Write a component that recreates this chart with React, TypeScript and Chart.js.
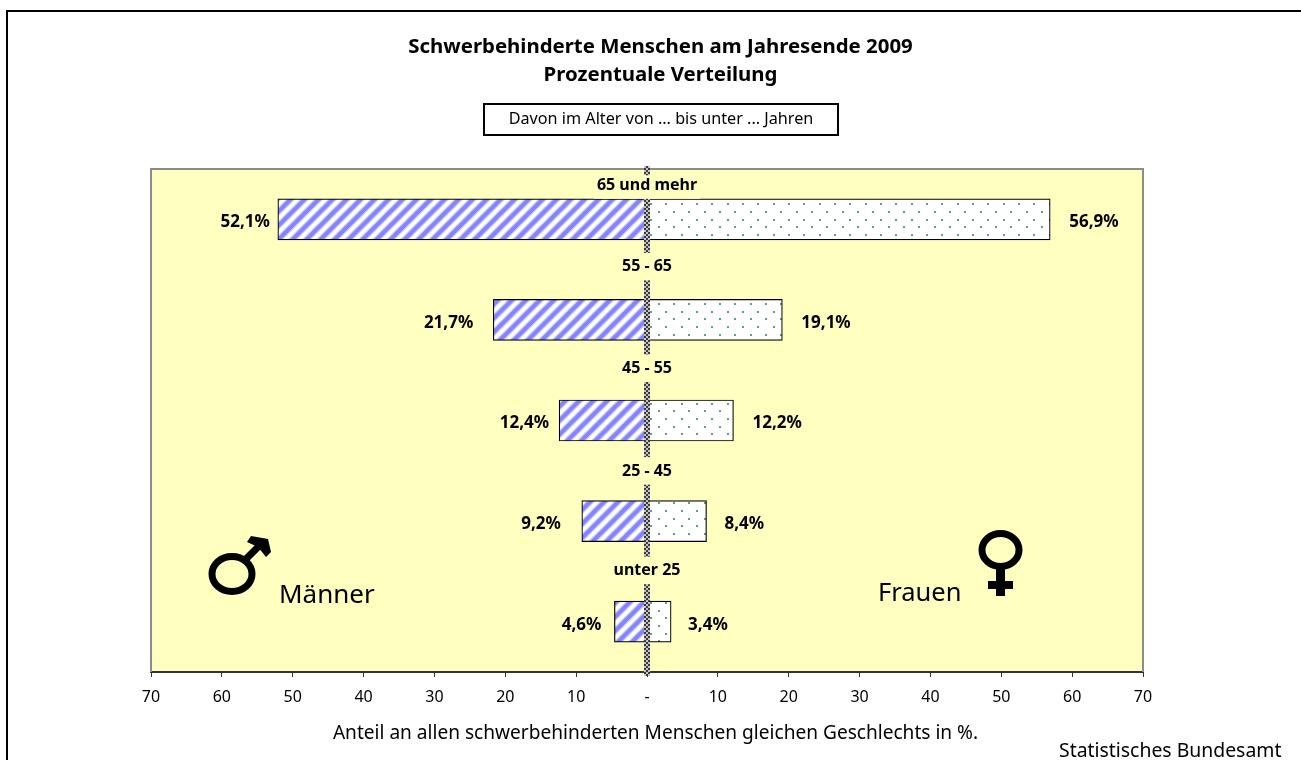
import React, { useEffect, useRef } from "react";
import { Chart, registerables } from "chart.js";

Chart.register(...registerables);

const categories = ["65 und mehr", "55 - 65", "45 - 55", "25 - 45", "unter 25"];
const maleShare = [52.1, 21.7, 12.4, 9.2, 4.6];
const femaleShare = [56.9, 19.1, 12.2, 8.4, 3.4];
const xTickValues = [-70, -60, -50, -40, -30, -20, -10, 0, 10, 20, 30, 40, 50, 60, 70];
const titleLines = ["Schwerbehinderte Menschen am Jahresende 2009", "Prozentuale Verteilung"];
const boxText = "Davon im Alter von ... bis unter ... Jahren";
const axisText = "Anteil an allen schwerbehinderten Menschen gleichen Geschlechts in %.";
const sourceText = "Statistisches Bundesamt";
const FONT = '"Noto Sans", sans-serif';
const categoryLabelRise = [34, 53, 52, 50, 51];
const categoryBackingAbove = [10, 14, 14, 14, 14];
const maleLabelGap = [8, 20, 10, 21, 13];
const femaleLabelGap = [19, 19, 19, 18, 17];

function stripePattern(ctx: CanvasRenderingContext2D) {
  const p = 14;
  const c = document.createElement("canvas");
  c.width = p;
  c.height = p;
  const g = c.getContext("2d")!;
  g.fillStyle = "#ffffff";
  g.fillRect(0, 0, p, p);
  const band = (color: string, w: number) => {
    g.strokeStyle = color;
    g.lineWidth = w;
    for (let k = -1; k <= 1; k++) {
      g.beginPath();
      g.moveTo(k * p - 2, p + 2);
      g.lineTo(k * p + p + 2, -2);
      g.stroke();
    }
  };
  band("#c8c8ff", 6.4);
  band("#8484ff", 4);
  return ctx.createPattern(c, "repeat")!;
}

function dotPattern(ctx: CanvasRenderingContext2D) {
  const c = document.createElement("canvas");
  c.width = 46;
  c.height = 46;
  const g = c.getContext("2d")!;
  g.fillStyle = "#ffffff";
  g.fillRect(0, 0, 46, 46);
  g.fillStyle = "#5f9a9a";
  for (let r = 0; r < 6; r++) {
    for (let k = 0; k < 3; k++) {
      const x = Math.round(7 + k * 15.33 + (r % 2) * 7.67) % 46;
      const y = Math.round(5 + r * 7.67);
      g.fillRect(x - 1, y - 1, 2, 2);
    }
  }
  return ctx.createPattern(c, "repeat")!;
}

function checkerPattern(ctx: CanvasRenderingContext2D) {
  const c = document.createElement("canvas");
  c.width = 4;
  c.height = 4;
  const g = c.getContext("2d")!;
  g.fillStyle = "#c4c4c4";
  g.fillRect(0, 0, 4, 4);
  g.fillStyle = "#3a3a3a";
  g.fillRect(0, 0, 2, 2);
  g.fillRect(2, 2, 2, 2);
  return ctx.createPattern(c, "repeat")!;
}

const decor = {
  id: "decor",
  beforeDraw(chart: any) {
    const { ctx, chartArea: a } = chart;
    ctx.fillStyle = "#ffffc0";
    ctx.fillRect(a.left, a.top, a.right - a.left, a.bottom - a.top);
  },
  beforeDatasetsDraw(chart: any) {
    const { ctx, chartArea: a } = chart;
    ctx.save();
    ctx.strokeStyle = "#8c8c8c";
    ctx.lineWidth = 2;
    ctx.beginPath();
    ctx.moveTo(a.left, a.bottom);
    ctx.lineTo(a.left, a.top);
    ctx.lineTo(a.right, a.top);
    ctx.lineTo(a.right, a.bottom);
    ctx.stroke();
    ctx.restore();
  },
  afterDatasetsDraw(chart: any) {
    const { ctx, chartArea: a, scales } = chart;
    const x = scales.x;
    const y = scales.y;
    const x0 = x.getPixelForValue(0);
    ctx.save();
    // outer frame
    ctx.strokeStyle = "#000000";
    ctx.lineWidth = 2;
    ctx.beginPath();
    ctx.moveTo(7, 760);
    ctx.lineTo(7, 11);
    ctx.lineTo(1301, 11);
    ctx.stroke();
    // centre axis
    ctx.fillStyle = checkerPattern(ctx);
    ctx.fillRect(x0 - 3, a.top - 3, 6, a.bottom - a.top + 7);

    // category labels with their yellow backing
    ctx.textBaseline = "middle";
    ctx.textAlign = "center";
    ctx.font = "bold 16px " + FONT;
    categories.forEach((label, i) => {
      const cy = y.getPixelForValue(i) - categoryLabelRise[i];
      const w = ctx.measureText(label).width;
      ctx.fillStyle = "#ffffc0";
      ctx.fillRect(x0 - w / 2 - 3, cy - categoryBackingAbove[i], w + 6, categoryBackingAbove[i] + 13.5);
      ctx.fillStyle = "#000000";
      ctx.fillText(label, x0, cy);
    });

    // value labels
    ctx.font = "bold 17px " + FONT;
    const fmt = (v: number) => v.toFixed(1).replace(".", ",") + "%";
    maleShare.forEach((v, i) => {
      ctx.textAlign = "right";
      ctx.fillText(fmt(v), x.getPixelForValue(-v) - maleLabelGap[i], y.getPixelForValue(i) + 3);
    });
    femaleShare.forEach((v, i) => {
      ctx.textAlign = "left";
      ctx.fillText(fmt(v), x.getPixelForValue(v) + femaleLabelGap[i], y.getPixelForValue(i) + 3);
    });

    // titles
    ctx.textAlign = "center";
    ctx.font = "bold 20.4px " + FONT;
    titleLines.forEach((t, i) => ctx.fillText(t, 660.5, 47 + i * 28));

    // subtitle box
    ctx.strokeStyle = "#000000";
    ctx.lineWidth = 2;
    ctx.strokeRect(484, 104, 354, 31);
    ctx.font = "16.2px " + FONT;
    ctx.fillText(boxText, 661, 119);

    // axis caption & source
    ctx.font = "19.1px " + FONT;
    ctx.fillText(axisText, 655.5, 734);
    ctx.textAlign = "left";
    ctx.font = "19.4px " + FONT;
    ctx.fillText(sourceText, 1059, 751);

    // gender words
    ctx.font = "26px " + FONT;
    ctx.fillText("Männer", 279, 596);
    ctx.font = "25.5px " + FONT;
    ctx.fillText("Frauen", 878, 594);

    // male symbol
    ctx.strokeStyle = "#000000";
    ctx.fillStyle = "#000000";
    ctx.lineWidth = 7;
    ctx.beginPath();
    ctx.ellipse(232, 574, 20, 17.5, 0, 0, Math.PI * 2);
    ctx.stroke();
    ctx.beginPath();
    ctx.moveTo(245, 560);
    ctx.lineTo(262, 543);
    ctx.stroke();
    ctx.beginPath();
    ctx.moveTo(251, 536);
    ctx.lineTo(268, 539);
    ctx.lineTo(271, 552);
    ctx.lineTo(266, 557);
    ctx.lineTo(258, 547);
    ctx.lineTo(247, 542);
    ctx.closePath();
    ctx.fill();

    // female symbol
    ctx.beginPath();
    ctx.ellipse(1000.5, 550, 18.5, 16.5, 0, 0, Math.PI * 2);
    ctx.stroke();
    ctx.fillRect(996, 568, 9, 28);
    ctx.fillRect(988, 581, 25, 8);
    ctx.restore();
  },
};

export default function App() {
  const ref = useRef<HTMLCanvasElement>(null);
  useEffect(() => {
    const canvas = ref.current!;
    const ctx = canvas.getContext("2d")!;
    const chart = new Chart(canvas, {
      type: "bar",
      plugins: [decor],
      data: {
        labels: categories,
        datasets: [
          {
            label: "Männer",
            data: maleShare.map((v) => -v),
            backgroundColor: stripePattern(ctx),
            borderColor: "#000000",
            borderWidth: 1.2,
            borderSkipped: false,
            barThickness: 41,
          },
          {
            label: "Frauen",
            data: femaleShare,
            backgroundColor: dotPattern(ctx),
            borderColor: "#000000",
            borderWidth: 1.2,
            borderSkipped: false,
            barThickness: 41,
          },
        ],
      },
      options: {
        indexAxis: "y",
        responsive: false,
        animation: false,
        layout: { padding: { left: 151, right: 158, top: 169, bottom: 58 } },
        plugins: { legend: { display: false }, title: { display: false }, tooltip: { enabled: false } },
        scales: {
          y: { stacked: true, display: false, grid: { display: false } },
          x: {
            stacked: true,
            min: -70,
            max: 70,
            afterFit: (s: any) => {
              s.height = 30;
            },
            afterBuildTicks: (s: any) => {
              s.ticks = xTickValues.map((value) => ({ value }));
            },
            border: { color: "#333333", width: 2 },
            grid: { drawOnChartArea: false, drawTicks: true, tickLength: 5, color: "#333333" },
            ticks: {
              autoSkip: false,
              maxRotation: 0,
              padding: 11,
              color: "#000000",
              font: { family: FONT, size: 16 },
              callback: (v: any) => (Number(v) === 0 ? "-" : String(Math.abs(Number(v)))),
            },
          },
        },
      },
    } as any);
    return () => chart.destroy();
  }, []);
  return (
    <canvas
      ref={ref}
      width={1301}
      height={760}
      style={{ position: "fixed", left: 0, top: 0, width: 1301, height: 760, display: "block", background: "#ffffff" }}
    />
  );
}
